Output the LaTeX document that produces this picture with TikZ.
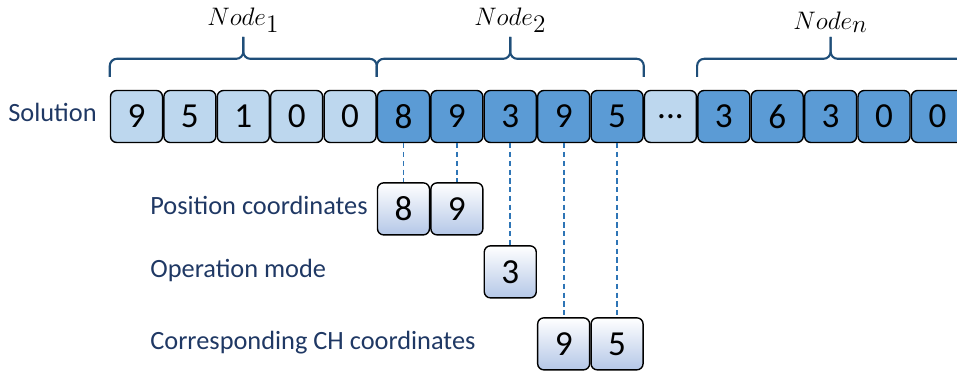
\documentclass[tikz,border=0pt]{standalone}
\usepackage{fontspec}
\setmainfont{Carlito}
\usetikzlibrary{positioning}
\usetikzlibrary{calc}
\definecolor{lightcell}{HTML}{BDD7EE}
\definecolor{darkcell}{HTML}{5B9BD5}
\definecolor{partblue}{HTML}{B4C7E7}
\definecolor{labblue}{HTML}{1F3864}
\definecolor{bracecol}{HTML}{1F4E79}
\definecolor{linkcol}{HTML}{2E75B6}

\begin{document}
\begin{tikzpicture}[x=0.02cm,y=0.02cm,node distance=0pt,
		cell/.style={draw=black,line width=0.8pt,rounded corners=3.5pt,minimum width=1.04cm,
			minimum height=1.04cm,inner sep=0pt,font=\fontsize{20}{24}\selectfont},
		light cell/.style={cell,fill=lightcell},
		dark cell/.style={cell,fill=darkcell},
		part cell/.style={cell,top color=white,middle color=white!80!partblue,bottom color=partblue},
		lab/.style={text=labblue,font=\fontsize{15}{18}\selectfont,inner sep=0pt,
			text height=1.5ex,text depth=0.25ex},
		brc/.style={draw=bracecol,line width=1.2pt,rounded corners=4pt},
		link/.style={draw=linkcol,line width=1pt,dash pattern=on 3pt off 2pt},
		nlab/.style={font=\fontsize{14}{16}\selectfont,inner sep=0pt}]
		
		\useasboundingbox (0,0) rectangle (957,374);
		
		\node[light cell] (a1) at (136.5,257.5) {9};
		\node[light cell] (a2) [right=of a1] {5};
		\node[light cell] (a3) [right=of a2] {1};
		\node[light cell] (a4) [right=of a3] {0};
		\node[light cell] (a5) [right=of a4] {0};
		\node[dark cell] (b1) [right=of a5] {8};
		\node[dark cell] (b2) [right=of b1] {9};
		\node[dark cell] (b3) [right=of b2] {3};
		\node[dark cell] (b4) [right=of b3] {9};
		\node[dark cell] (b5) [right=of b4] {5};
		\node[light cell] (dots) [right=of b5] {...};
		\node[dark cell] (n1) [right=of dots] {3};
		\node[dark cell] (n2) [right=of n1] {6};
		\node[dark cell] (n3) [right=of n2] {3};
		\node[dark cell] (n4) [right=of n3] {0};
		\node[dark cell] (n5) [right=of n4] {0};
		
		\coordinate (t1) at ($(a3.north)+(0,53)$);
		\coordinate (t2) at ($(b3.north)+(0,53)$);
		\coordinate (tn) at ($(n3.north)+(0,53)$);
		\draw[brc] ($(a1.north west)+(0,13)$) |- ($(a3.north)+(0,31)$) -- (t1);
		\draw[brc] ($(a5.north east)+(0,13)$) |- ($(a3.north)+(0,31)$) -- (t1);
		\draw[brc] ($(b1.north west)+(0,13)$) |- ($(b3.north)+(0,31)$) -- (t2);
		\draw[brc] ($(b5.north east)+(0,13)$) |- ($(b3.north)+(0,31)$) -- (t2);
		\draw[brc] ($(n1.north west)+(0,13)$) |- ($(n3.north)+(0,31)$) -- (tn);
		\draw[brc] ($(n5.north east)+(0,13)$) |- ($(n3.north)+(0,31)$) -- (tn);
		\node[nlab] (l1) [above=2pt of t1] {$Node_{\textstyle 1}$};
		\node[nlab] (l2) [above=2pt of t2] {$Node_{\textstyle 2}$};
		\node[nlab] (ln) [above=2pt of tn] {$Node_{\textstyle n}$};
		
		\node[part cell] (p1) [below=0.78cm of b1] {8};
		\node[part cell] (p2) [right=of p1] {9};
		\node[part cell] (o1) [below=2.04cm of b3] {3};
		\node[part cell] (c1) [below=3.48cm of b4] {9};
		\node[part cell] (c2) [right=of c1] {5};
		
		\draw[link] (b1.south) -- (p1.north);
		\draw[link] (b2.south) -- (p2.north);
		\draw[link] (b3.south) -- (o1.north);
		\draw[link] (b4.south) -- (c1.north);
		\draw[link] (b5.south) -- (c2.north);
		
		\coordinate (sx) at (8,0);
		\coordinate (lx) at (150,0);
		\node[lab,anchor=west] (sol) at (sx |- a1) {Solution};
		\node[lab,anchor=west] (pos) at (lx |- p1) {Position coordinates};
		\node[lab,anchor=west] (mode) at (lx |- o1) {Operation mode};
		\node[lab,anchor=west] (ch) at (lx |- c1) {Corresponding CH coordinates};
\end{tikzpicture}
\end{document}
